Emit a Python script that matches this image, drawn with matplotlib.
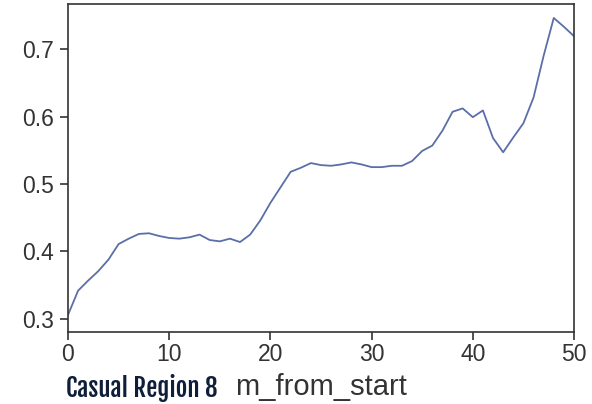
import matplotlib
matplotlib.use("Agg")
import matplotlib.pyplot as plt

x_vals = list(range(0, 51))
y_vals = [0.306, 0.342, 0.357, 0.371, 0.388, 0.411, 0.419, 0.426, 0.427, 0.423,
          0.420, 0.419, 0.421, 0.425, 0.417, 0.415, 0.419, 0.414, 0.425, 0.446,
          0.472, 0.495, 0.518, 0.524, 0.531, 0.528, 0.527, 0.529, 0.532, 0.529,
          0.525, 0.525, 0.527, 0.527, 0.534, 0.549, 0.557, 0.579, 0.607, 0.612,
          0.599, 0.609, 0.568, 0.547, 0.569, 0.590, 0.628, 0.690, 0.746, 0.733,
          0.719]
x_ticks = [0, 10, 20, 30, 40, 50]
y_ticks = [0.3, 0.4, 0.5, 0.6, 0.7]

fig = plt.figure(figsize=(5.92, 4.04), dpi=100)
ax = fig.add_axes([68/592, 1-332/404, (574-68)/592, (332-4)/404])
ax.plot(x_vals, y_vals, color="#5a6fa8", linewidth=1.3)
ax.set_xlim(0, 50)
ax.set_ylim(0.2807, 0.7667)
ax.set_xticks(x_ticks)
ax.set_xticklabels([str(t) for t in x_ticks])
ax.set_yticks(y_ticks)
ax.set_yticklabels([f"{t:.1f}" for t in y_ticks])
for s in ax.spines.values():
    s.set_color("#333333")
    s.set_linewidth(1.2)
ax.tick_params(direction="out", length=6, width=1.2, color="#333333",
               labelsize=16.5, labelcolor="#333333")
ax.tick_params(axis="x", pad=2)
ax.tick_params(axis="y", pad=4)
for lab in ax.get_xticklabels() + ax.get_yticklabels():
    lab.set_family("Liberation Sans")
ax.set_xlabel("m_from_start", fontsize=21, family="Liberation Sans",
              color="#333333")
ax.xaxis.set_label_coords(0.5, -(395-332)/328)
ax.xaxis.label.set_va("baseline")
fig.text(66/592, 1-397/404, "Casual Region 8", fontsize=18, fontweight="bold",
         family=["Fjalla One", "Oswald", "Roboto Condensed", "DejaVu Sans"],
         color="#0f1f3a", va="baseline", ha="left")
fig.savefig("out.png", dpi=100, facecolor="white")
